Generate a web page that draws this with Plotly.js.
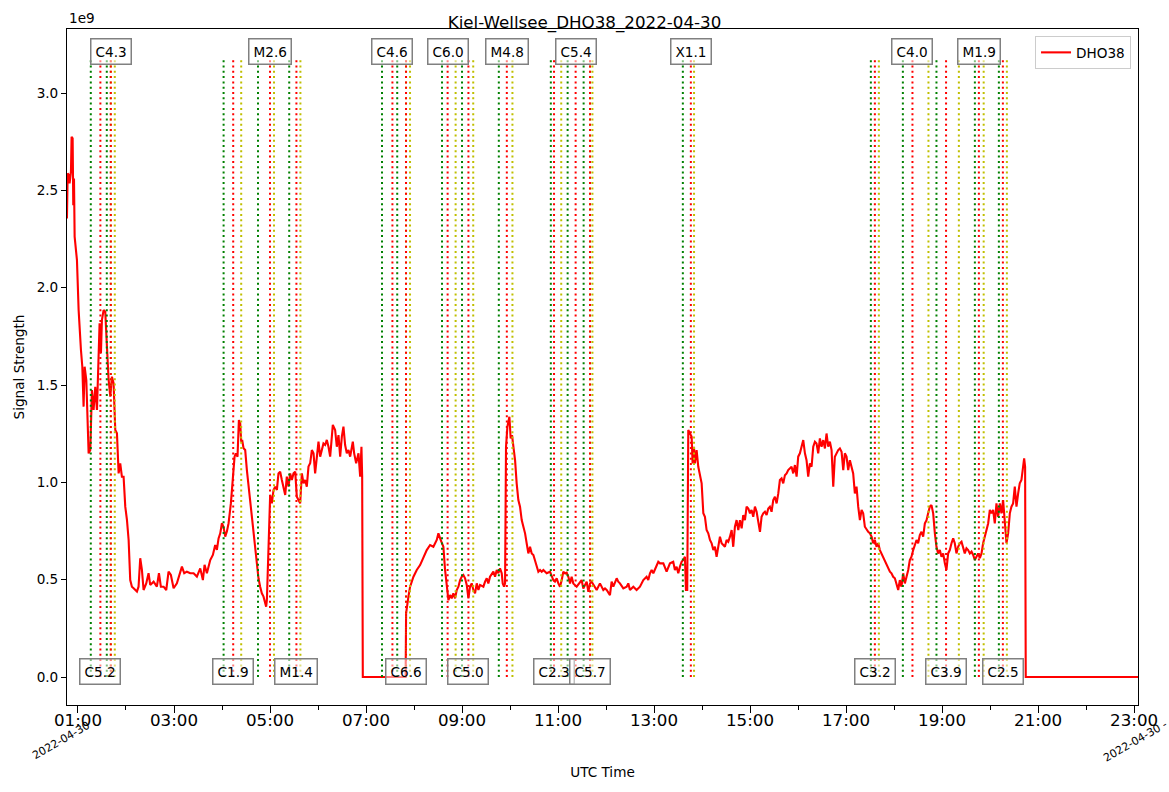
<!DOCTYPE html>
<html>
<head>
<meta charset="utf-8">
<script src="https://cdn.plot.ly/plotly-3.0.1.min.js"></script>
<style>
  html, body { margin: 0; padding: 0; background: #fff; }
  #chart { width: 1169px; height: 792px; }
</style>
</head>
<body>
<div id="chart"></div>
<script>
// ---------------- DATA ----------------
const day = "2022-04-30";
const stationName = "DHO38";
const chartTitle = "Kiel-Wellsee_DHO38_2022-04-30";

// sample times, minutes after 00:00 UTC
const sampleMinutes = [
  46.2, 47.1, 48.7, 49.5, 51.2, 52.0, 53.3, 53.7, 54.1, 55.0,
  55.8, 58.7, 60.8, 63.7, 65.4, 67.0, 68.3, 70.4, 73.3, 75.4,
  77.4, 79.5, 81.6, 83.7, 85.8, 87.0, 88.7, 89.9, 92.0, 94.1,
  96.2, 98.3, 100.4, 102.4, 104.5, 106.6, 108.7, 110.8, 112.8, 114.9,
  117.0, 119.1, 121.2, 123.3, 125.3, 127.4, 129.5, 133.7, 135.7, 137.8,
  139.9, 142.0, 145.3, 148.2, 150.3, 154.5, 158.6, 161.2, 163.6, 167.0,
  170.3, 173.2, 176.1, 179.5, 183.6, 186.5, 189.9, 192.8, 196.1, 200.3,
  204.5, 208.6, 212.8, 216.1, 218.2, 221.1, 225.3, 228.6, 231.5, 233.6,
  235.7, 237.8, 239.9, 241.9, 244.0, 246.1, 248.2, 251.1, 253.2, 254.4,
  255.7, 257.3, 259.4, 261.1, 262.8, 264.0, 265.2, 266.9, 269.0, 271.1,
  273.2, 275.2, 277.3, 279.4, 281.5, 283.6, 285.6, 287.7, 289.8, 291.9,
  294.0, 295.2, 296.1, 297.7, 299.0, 300.2, 302.3, 304.4, 306.5, 308.6,
  310.6, 312.7, 314.8, 316.9, 319.0, 321.0, 323.1, 325.2, 327.3, 329.4,
  331.5, 333.5, 335.6, 337.7, 339.8, 341.9, 343.9, 346.0, 348.1, 350.2,
  352.3, 354.4, 356.4, 358.5, 360.6, 362.7, 366.8, 368.9, 371.0, 373.1,
  375.2, 377.3, 378.5, 381.4, 383.5, 385.6, 387.7, 389.8, 391.8, 393.9,
  396.0, 398.1, 400.2, 403.5, 405.2, 407.7, 410.6, 412.7, 414.3, 415.2,
  416.0, 469.5, 470.1, 473.0, 475.1, 479.3, 483.4, 487.6, 491.7, 495.9,
  500.1, 504.2, 508.4, 510.5, 512.6, 514.7, 516.7, 518.8, 520.9, 523.0,
  525.1, 527.1, 529.2, 531.3, 533.4, 535.5, 537.6, 539.6, 541.7, 543.8,
  545.9, 548.0, 550.0, 552.1, 554.2, 556.3, 558.4, 560.5, 562.5, 566.7,
  568.8, 570.9, 572.9, 575.0, 579.2, 581.3, 583.4, 585.4, 587.5, 589.6,
  590.9, 592.5, 593.8, 595.0, 596.7, 599.2, 600.8, 602.5, 604.2, 606.3,
  608.3, 610.4, 612.5, 614.6, 616.7, 618.8, 620.8, 622.9, 625.0, 627.1,
  629.2, 631.2, 633.3, 635.4, 637.5, 639.6, 641.7, 645.8, 650.0, 652.1,
  654.1, 656.2, 658.3, 660.4, 662.5, 664.6, 666.6, 668.7, 670.8, 672.9,
  675.0, 677.0, 679.1, 683.3, 687.5, 689.5, 691.6, 695.8, 697.9, 700.0,
  702.0, 704.1, 708.3, 712.4, 714.5, 716.6, 718.7, 720.8, 724.9, 727.0,
  729.1, 731.2, 733.3, 735.3, 737.4, 741.6, 745.8, 747.8, 749.9, 754.1,
  758.2, 762.4, 766.6, 770.7, 772.8, 774.9, 777.0, 779.1, 783.2, 785.3,
  787.4, 791.6, 795.7, 797.8, 799.9, 804.0, 806.1, 808.2, 810.3, 812.4,
  814.5, 816.5, 818.6, 819.9, 821.5, 822.8, 824.9, 827.0, 828.2, 829.9,
  831.1, 833.2, 835.3, 839.5, 841.6, 843.6, 845.7, 847.8, 849.9, 852.0,
  854.1, 856.1, 858.2, 860.3, 862.4, 864.5, 866.5, 868.6, 870.7, 872.8,
  874.9, 877.0, 879.0, 881.1, 883.2, 885.3, 887.4, 889.5, 891.5, 893.6,
  895.7, 897.8, 899.9, 901.9, 904.0, 906.1, 908.2, 910.3, 912.4, 914.4,
  916.5, 918.6, 920.7, 922.8, 924.8, 926.9, 929.0, 931.1, 933.2, 935.3,
  937.3, 939.4, 941.5, 943.6, 945.7, 947.7, 949.8, 951.9, 954.0, 956.1,
  958.2, 960.2, 962.3, 964.4, 966.5, 968.6, 970.6, 972.7, 974.8, 976.9,
  979.0, 981.1, 983.1, 985.2, 987.3, 989.4, 991.5, 993.6, 995.6, 997.7,
  999.8, 1001.9, 1004.0, 1006.0, 1008.1, 1010.2, 1012.3, 1014.4, 1016.5, 1018.5,
  1020.6, 1022.7, 1024.8, 1026.9, 1028.9, 1031.0, 1033.1, 1035.2, 1037.3, 1039.4,
  1041.4, 1043.5, 1045.6, 1047.7, 1049.8, 1051.9, 1053.9, 1056.0, 1058.1, 1060.2,
  1062.3, 1064.3, 1066.4, 1068.5, 1070.6, 1072.7, 1074.8, 1076.8, 1078.9, 1081.0,
  1083.1, 1085.2, 1087.2, 1089.3, 1091.4, 1093.5, 1095.6, 1097.7, 1099.7, 1101.8,
  1103.9, 1106.0, 1108.1, 1110.1, 1112.2, 1114.3, 1116.4, 1118.5, 1120.6, 1122.6,
  1124.7, 1126.8, 1128.9, 1131.0, 1133.0, 1135.1, 1137.2, 1139.3, 1141.4, 1143.5,
  1145.5, 1147.6, 1149.7, 1151.8, 1153.9, 1155.9, 1158.0, 1160.1, 1162.2, 1164.3,
  1166.4, 1168.4, 1170.5, 1172.6, 1174.7, 1176.8, 1178.9, 1180.9, 1183.0, 1185.1,
  1187.2, 1189.3, 1191.3, 1193.4, 1195.5, 1197.6, 1199.7, 1201.8, 1203.8, 1205.9,
  1208.0, 1210.1, 1212.2, 1214.2, 1216.3, 1218.4, 1220.5, 1222.6, 1224.7, 1226.7,
  1228.8, 1230.9, 1233.0, 1235.1, 1237.1, 1239.2, 1241.3, 1242.6, 1243.8, 1244.6,
  1384.9
];

// signal strength, units of 1e9
const signalE9 = [
  2.356, 2.587, 2.578, 2.536, 2.596, 2.775, 2.767, 2.561, 2.424, 2.561,
  2.262, 2.142, 1.885, 1.680, 1.594, 1.389, 1.594, 1.526, 1.149, 1.166,
  1.474, 1.372, 1.491, 1.372, 1.663, 1.817, 1.663, 1.834, 1.885, 1.877,
  1.697, 1.526, 1.440, 1.543, 1.509, 1.269, 1.252, 1.046, 1.098, 1.029,
  1.029, 0.875, 0.807, 0.704, 0.498, 0.464, 0.456, 0.439, 0.464, 0.610,
  0.550, 0.447, 0.481, 0.533, 0.473, 0.490, 0.464, 0.533, 0.464, 0.464,
  0.447, 0.541, 0.524, 0.456, 0.481, 0.516, 0.567, 0.533, 0.541, 0.533,
  0.533, 0.516, 0.558, 0.498, 0.576, 0.533, 0.601, 0.627, 0.678, 0.653,
  0.712, 0.738, 0.790, 0.772, 0.721, 0.747, 0.790, 0.892, 1.012, 1.046,
  1.132, 1.149, 1.132, 1.320, 1.303, 1.209, 1.218, 1.175, 1.166, 1.063,
  0.978, 0.892, 0.841, 0.755, 0.653, 0.584, 0.507, 0.464, 0.430, 0.413,
  0.379, 0.361, 0.396, 0.635, 0.892, 0.935, 0.892, 0.961, 0.978, 0.961,
  1.046, 1.055, 1.012, 0.978, 0.935, 1.029, 0.978, 1.046, 1.012, 1.046,
  1.055, 0.926, 0.909, 0.892, 1.046, 0.995, 1.012, 0.978, 1.081, 1.098,
  1.166, 1.149, 1.046, 1.149, 1.209, 1.132, 1.200, 1.192, 1.218, 1.183,
  1.132, 1.235, 1.295, 1.269, 1.183, 1.243, 1.132, 1.235, 1.286, 1.192,
  1.149, 1.166, 1.132, 1.209, 1.149, 1.098, 1.149, 1.029, 1.183, 1.029,
  0.000, 0.000, 0.327, 0.413, 0.464, 0.515, 0.550, 0.575, 0.618, 0.652,
  0.678, 0.669, 0.704, 0.738, 0.712, 0.687, 0.669, 0.550, 0.464, 0.395,
  0.421, 0.404, 0.430, 0.404, 0.447, 0.464, 0.498, 0.515, 0.524, 0.507,
  0.473, 0.404, 0.464, 0.481, 0.447, 0.430, 0.481, 0.447, 0.473, 0.464,
  0.490, 0.507, 0.481, 0.515, 0.541, 0.515, 0.550, 0.533, 0.558, 0.533,
  0.481, 0.464, 0.481, 1.183, 1.286, 1.337, 1.226, 1.243, 1.183, 1.114,
  0.995, 0.909, 0.875, 0.806, 0.772, 0.738, 0.687, 0.635, 0.669, 0.635,
  0.627, 0.601, 0.567, 0.541, 0.550, 0.541, 0.550, 0.533, 0.541, 0.515,
  0.498, 0.490, 0.507, 0.481, 0.464, 0.498, 0.541, 0.533, 0.536, 0.515,
  0.481, 0.515, 0.481, 0.464, 0.490, 0.498, 0.455, 0.490, 0.438, 0.481,
  0.490, 0.473, 0.447, 0.481, 0.464, 0.447, 0.455, 0.447, 0.421, 0.490,
  0.464, 0.490, 0.507, 0.490, 0.481, 0.455, 0.464, 0.481, 0.447, 0.464,
  0.447, 0.464, 0.498, 0.515, 0.498, 0.533, 0.550, 0.533, 0.567, 0.592,
  0.584, 0.584, 0.541, 0.567, 0.584, 0.592, 0.550, 0.567, 0.533, 0.567,
  0.592, 0.601, 0.618, 0.447, 0.447, 1.269, 1.251, 1.234, 1.097, 1.183,
  1.097, 1.166, 1.080, 0.995, 0.841, 0.823, 0.755, 0.738, 0.704, 0.687,
  0.652, 0.669, 0.618, 0.661, 0.721, 0.687, 0.678, 0.669, 0.704, 0.695,
  0.721, 0.755, 0.669, 0.772, 0.806, 0.755, 0.806, 0.764, 0.832, 0.806,
  0.875, 0.866, 0.841, 0.858, 0.823, 0.875, 0.849, 0.806, 0.746, 0.823,
  0.841, 0.849, 0.832, 0.866, 0.875, 0.849, 0.909, 0.926, 0.892, 0.943,
  1.012, 1.020, 0.995, 1.037, 1.046, 1.063, 1.072, 1.080, 1.046, 1.089,
  1.029, 1.132, 1.149, 1.183, 1.217, 1.149, 1.114, 1.029, 1.097, 1.080,
  1.183, 1.209, 1.200, 1.149, 1.226, 1.183, 1.217, 1.174, 1.251, 1.183,
  1.209, 1.166, 0.978, 1.132, 1.149, 1.166, 1.174, 1.157, 1.063, 1.149,
  1.132, 1.063, 1.114, 1.080, 1.046, 0.943, 0.978, 0.875, 0.806, 0.858,
  0.841, 0.772, 0.755, 0.746, 0.738, 0.721, 0.687, 0.704, 0.669, 0.687,
  0.652, 0.635, 0.618, 0.601, 0.584, 0.567, 0.541, 0.533, 0.515, 0.507,
  0.481, 0.447, 0.498, 0.464, 0.533, 0.481, 0.515, 0.550, 0.601, 0.618,
  0.652, 0.678, 0.704, 0.687, 0.729, 0.746, 0.721, 0.789, 0.806, 0.841,
  0.875, 0.883, 0.841, 0.738, 0.669, 0.635, 0.652, 0.618, 0.635, 0.584,
  0.550, 0.635, 0.652, 0.687, 0.712, 0.687, 0.635, 0.669, 0.687, 0.695,
  0.669, 0.635, 0.661, 0.652, 0.635, 0.644, 0.627, 0.601, 0.618, 0.635,
  0.610, 0.635, 0.687, 0.721, 0.755, 0.789, 0.858, 0.841, 0.858, 0.789,
  0.892, 0.823, 0.892, 0.841, 0.909, 0.772, 0.687, 0.738, 0.841, 0.875,
  0.892, 0.978, 0.875, 0.943, 0.995, 1.012, 1.080, 1.123, 1.080, 0.000,
  0.000
];

// solar flare events (GOES class, start / peak / end, UTC)
const flareClass = ["C5.2","C4.3","C1.9","M2.6","M1.4","C4.6","C6.6","C6.0","C5.0","M4.8",
                    "C2.3","C5.4","C5.7","X1.1","C3.2","C4.0","C3.9","M1.9","C2.5"];
const flareStart = ["01:16","01:36","04:02","04:45","05:24","07:20","07:39","08:35","09:00","09:46",
                    "10:51","11:12","11:32","13:36","17:31","18:11","18:53","19:41","20:11"];
const flarePeak  = ["01:28","01:41","04:14","05:00","05:33","07:33","07:50","08:42","09:08","09:56",
                    "10:55","11:22","11:40","13:46","17:36","18:23","19:05","19:46","20:16"];
const flareEnd   = ["01:41","01:46","04:24","05:05","05:38","07:50","07:55","08:52","09:14","10:03",
                    "11:04","11:40","11:43","13:50","17:41","18:43","19:21","19:52","20:21"];

const yTickVals = [0, 0.5, 1.0, 1.5, 2.0, 2.5, 3.0];
const xRange = ["00:46:16", "23:04:54"];

// ---------------- BUILD ----------------
function pad(n) { return String(n).padStart(2, "0"); }
function minToStr(m) {
  const s = Math.round(m * 60);
  return day + " " + pad(Math.floor(s / 3600)) + ":" + pad(Math.floor((s % 3600) / 60)) + ":" + pad(s % 60);
}
function hm(t) { return day + " " + t; }

const font = "DejaVu Sans, Verdana, sans-serif";
const xs = sampleMinutes.map(minToStr);

const trace = {
  x: xs, y: signalE9, type: "scatter", mode: "lines",
  name: stationName,
  line: { color: "#ff0000", width: 2.1 },
  hoverinfo: "x+y"
};

const yTop = Math.max.apply(null, signalE9) * 1.148;
const shapes = [];
const dash = "2px,3.3px";
function vline(t, color) {
  shapes.push({
    type: "line", xref: "x", yref: "y",
    x0: hm(t), x1: hm(t), y0: 0, y1: yTop,
    line: { color: color, width: 2, dash: dash }
  });
}
for (let i = 0; i < flareClass.length; i++) {
  vline(flareStart[i], "#008000");
  vline(flarePeak[i], "#ff0000");
  vline(flareEnd[i], "#bfbf00");
}

const annotations = [];
for (let i = 0; i < flareClass.length; i++) {
  const bottom = (i % 2 === 0);
  annotations.push({
    x: hm(flarePeak[i]), xref: "x",
    y: bottom ? 0.026 : 3.211, yref: "y",
    text: flareClass[i], showarrow: false,
    xanchor: "center", yanchor: "middle",
    font: { family: font, size: 13.6, color: "#000" },
    bgcolor: "rgba(255,255,255,0.5)",
    bordercolor: "#808080", borderwidth: 1.5, borderpad: 4
  });
}
// offset label for the y axis
annotations.push({
  x: 0, xref: "paper", y: 1, yref: "paper", xanchor: "left", yanchor: "bottom", yshift: 1,
  text: "1e9", showarrow: false, font: { family: font, size: 13.6, color: "#000" }
});
// rotated date labels at the axis ends (centred, rotated about their centre)
annotations.push({
  x: -0.0056, xref: "paper", y: -0.0518, yref: "paper", xanchor: "center", yanchor: "middle",
  text: day, textangle: -30, showarrow: false, font: { family: font, size: 11, color: "#000" }
});
annotations.push({
  x: 0.9972, xref: "paper", y: -0.0547, yref: "paper", xanchor: "center", yanchor: "middle",
  text: day + " -", textangle: -30, showarrow: false, font: { family: font, size: 11, color: "#000" }
});

const layout = {
  width: 1169, height: 792,
  margin: { l: 67, r: 31, t: 29, b: 87 },
  paper_bgcolor: "#fff", plot_bgcolor: "#fff",
  font: { family: font, color: "#000" },
  title: {
    text: chartTitle, font: { family: font, size: 16.7, color: "#000" },
    x: 0.5, xref: "container", xanchor: "center",
    y: 1 - 22 / 792, yref: "container", yanchor: "middle"
  },
  showlegend: true,
  legend: {
    x: 0.9935, y: 0.9896, xanchor: "right", yanchor: "top",
    bgcolor: "#fff", bordercolor: "#cccccc", borderwidth: 1,
    font: { family: font, size: 13.6, color: "#000" }
  },
  xaxis: {
    type: "date",
    range: [hm(xRange[0]), hm(xRange[1])],
    tickmode: "linear", tick0: hm("01:00"), dtick: 7200000,
    tickformat: "%H:%M",
    ticks: "outside", ticklen: 7, tickwidth: 1, tickcolor: "#000",
    ticklabelstandoff: -7,
    minor: { dtick: 3600000, ticks: "outside", ticklen: 4, tickwidth: 1, tickcolor: "#000", showgrid: false },
    tickfont: { family: font, size: 16.7, color: "#000" },
    showgrid: false, zeroline: false,
    showline: true, linecolor: "#000", linewidth: 1, mirror: true,
    title: { text: "UTC Time", font: { family: font, size: 13.6, color: "#000" }, standoff: 38 },
    automargin: false
  },
  yaxis: {
    range: [-0.1438, 3.329],
    tickmode: "array", tickvals: yTickVals, tickformat: ".1f",
    ticks: "outside", ticklen: 5, tickwidth: 1, tickcolor: "#000",
    tickfont: { family: font, size: 13.6, color: "#000" },
    showgrid: false, zeroline: false,
    showline: true, linecolor: "#000", linewidth: 1, mirror: true,
    title: { text: "Signal Strength", font: { family: font, size: 13.6, color: "#000" }, standoff: 8 },
    automargin: false
  },
  shapes: shapes,
  annotations: annotations
};

Plotly.newPlot("chart", [trace], layout, { displayModeBar: false, responsive: false });
</script>
</body>
</html>
